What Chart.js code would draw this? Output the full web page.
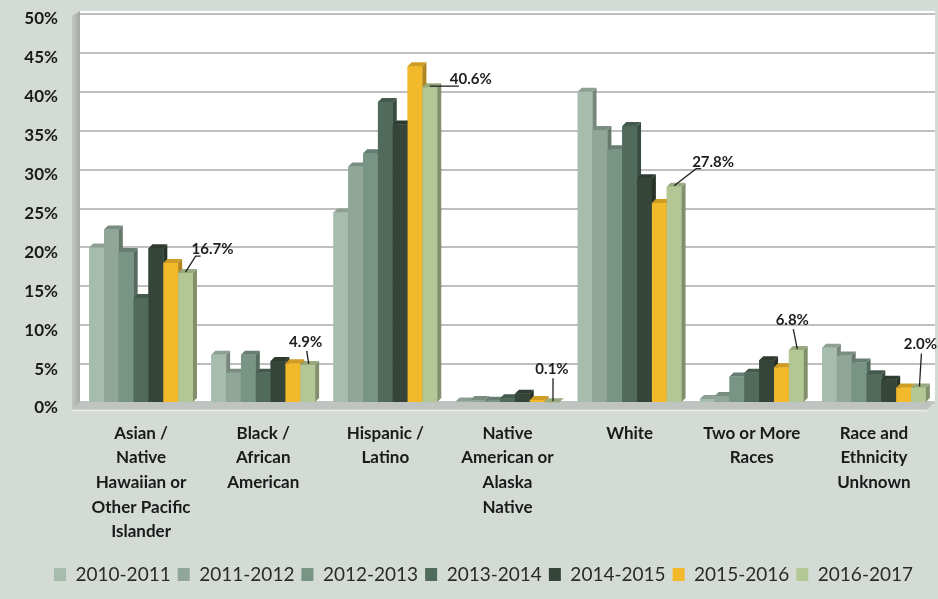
<!DOCTYPE html>
<html><head><meta charset="utf-8">
<script src="https://cdn.jsdelivr.net/npm/chart.js@4"></script>
<style>html,body{margin:0;padding:0;background:#d4dbd5;overflow:hidden}</style>
</head><body>
<canvas id="c" width="938" height="599"></canvas>
<script>
const categories = [
  ["Asian /","Native","Hawaiian or","Other Pacific","Islander"],
  ["Black /","African","American"],
  ["Hispanic /","Latino"],
  ["Native","American or","Alaska","Native"],
  ["White"],
  ["Two or More","Races"],
  ["Race and","Ethnicity","Unknown"]
];
const years = ["2010-2011","2011-2012","2012-2013","2013-2014","2014-2015","2015-2016","2016-2017"];
const v2010_2011 = [20.0, 6.2, 24.5, 0.2, 40.0, 0.5, 7.1];
const v2011_2012 = [22.3, 3.9, 30.4, 0.4, 35.1, 0.9, 6.1];
const v2012_2013 = [19.4, 6.2, 32.1, 0.3, 32.6, 3.4, 5.2];
const v2013_2014 = [13.5, 3.9, 38.7, 0.6, 35.6, 3.9, 3.7];
const v2014_2015 = [19.9, 5.4, 35.8, 1.2, 28.9, 5.5, 3.0];
const v2015_2016 = [18.0, 5.1, 43.3, 0.4, 25.7, 4.6, 2.0];
const v2016_2017 = [16.7, 4.9, 40.6, 0.1, 27.8, 6.8, 2.0];
const yTickValues = [0,5,10,15,20,25,30,35,40,45,50];

const seriesValues = [v2010_2011, v2011_2012, v2012_2013, v2013_2014, v2014_2015, v2015_2016, v2016_2017];
const colors = ["#a6bcad","#8fa698","#789485","#506a5b","#364539","#f2b92a","#b3c794"];

function shade(hex, f){
  const n = parseInt(hex.slice(1),16);
  const r = Math.round(((n>>16)&255)*f), g = Math.round(((n>>8)&255)*f), b = Math.round((n&255)*f);
  return `rgb(${r},${g},${b})`;
}

const bgPlugin = {
  id:'bgPlugin',
  beforeDraw(c){
    const ctx=c.ctx, a=c.chartArea;
    ctx.save();
    ctx.fillStyle='#d4dbd5'; ctx.fillRect(0,0,c.width,c.height);
    ctx.fillStyle='#ffffff'; ctx.fillRect(a.left,a.top-3,a.right-a.left,a.bottom-a.top+3);
    ctx.restore();
  }
};

const legendShift = {
  id:'legendShift',
  afterLayout(c){ if(c.legend){ c.legend.left += 16; c.legend.right += 16; } }
};

const wallPlugin = {
  id:'wallPlugin',
  beforeDatasetsDraw(c){
    const ctx=c.ctx, a=c.chartArea, w=8;
    ctx.save();
    const g = ctx.createLinearGradient(a.left-w,0,a.left,0);
    g.addColorStop(0,'#c2c6c3'); g.addColorStop(1,'#a4a9a5');
    ctx.fillStyle=g;
    ctx.beginPath();
    ctx.moveTo(a.left-w,a.top+2); ctx.lineTo(a.left,a.top-3); ctx.lineTo(a.left,a.bottom); ctx.lineTo(a.left-w,a.bottom+6);
    ctx.closePath(); ctx.fill();
    ctx.fillStyle='#c0c4c1';
    ctx.beginPath();
    ctx.moveTo(a.left-w,a.bottom+7); ctx.lineTo(a.left,a.bottom-2); ctx.lineTo(a.right,a.bottom-2); ctx.lineTo(a.right-w,a.bottom+7);
    ctx.closePath(); ctx.fill();
    ctx.strokeStyle='#e9ece9'; ctx.lineWidth=1.5;
    ctx.beginPath(); ctx.moveTo(a.left-w,a.bottom+7.5); ctx.lineTo(a.right-w,a.bottom+7.5); ctx.stroke();
    ctx.restore();
  }
};

const bars3dPlugin = {
  id:'bars3dPlugin',
  afterDatasetsDraw(c){
    const ctx=c.ctx, d=4;
    ctx.save();
    const n=c.data.labels.length;
    for(let j=0;j<n;j++){
      for(let i=0;i<c.data.datasets.length;i++){
        const el=c.getDatasetMeta(i).data[j];
        const p=el.getProps(['x','y','base','width'],true);
        const l=p.x-p.width/2, r=p.x+p.width/2, y=p.y, b=p.base;
        const col=c.data.datasets[i].backgroundColor;
        ctx.fillStyle=col; ctx.fillRect(l,y,p.width,b-y);
        ctx.fillStyle=shade(col,0.72);
        ctx.beginPath(); ctx.moveTo(r,y); ctx.lineTo(r+d,y-d); ctx.lineTo(r+d,b-d); ctx.lineTo(r,b); ctx.closePath(); ctx.fill();
        ctx.fillStyle=shade(col,0.85);
        ctx.beginPath(); ctx.moveTo(l,y); ctx.lineTo(l+d,y-d); ctx.lineTo(r+d,y-d); ctx.lineTo(r,y); ctx.closePath(); ctx.fill();
      }
    }
    ctx.restore();
  }
};

const leaderPlugin = {
  id:'leaderPlugin',
  afterDatasetsDraw(c, args, opts){
    const ctx=c.ctx, di=opts.datasetIndex;
    const meta=c.getDatasetMeta(di);
    ctx.save();
    ctx.font='bold 15px Lato';
    ctx.textAlign='center'; ctx.textBaseline='middle';
    ctx.strokeStyle='#222'; ctx.lineWidth=1.3; ctx.fillStyle='#1e1e1e';
    meta.data.forEach((el,j)=>{
      const p=el.getProps(['x','y'],true);
      const off=opts.offsets[j];
      const tx=p.x+off[0], ty=p.y+off[1];
      const txt=c.data.datasets[di].data[j].toFixed(1)+'%';
      const tw=ctx.measureText(txt).width;
      ctx.beginPath();
      if(Math.abs(off[0])>10){
        ctx.moveTo(p.x,p.y-1); ctx.lineTo(tx-tw/2+4,ty+7); ctx.lineTo(tx-tw/2+9,ty+7);
      } else {
        ctx.moveTo(p.x+1,p.y-1); ctx.lineTo(tx+1,ty+9);
      }
      ctx.stroke();
      ctx.fillText(txt,tx,ty);
    });
    ctx.restore();
  }
};

new Chart(document.getElementById('c'),{
  type:'bar',
  data:{
    labels:categories,
    datasets: years.map((yr,i)=>({label:yr,data:seriesValues[i],backgroundColor:colors[i],borderWidth:0,categoryPercentage:0.85,barPercentage:1.0}))
  },
  options:{
    responsive:false, animation:false, devicePixelRatio:1,
    layout:{padding:{left:0,right:3,top:14,bottom:5}},
    scales:{
      y:{min:0,max:50,
        afterBuildTicks(s){ s.ticks = yTickValues.map(v=>({value:v})); },
        afterFit(s){ s.width=80; s.paddingTop=0; s.paddingBottom=0; },
        ticks:{callback:v=>v+'%',font:{family:'Lato',weight:'bold',size:17},color:'#1a1a1a',padding:22,labelOffset:5},
        grid:{color:'#bfbfbf',lineWidth:2,drawTicks:false},
        border:{display:false}
      },
      x:{
        afterFit(s){ s.height=155; },
        ticks:{font:{family:'Lato',weight:'bold',size:17,lineHeight:1.45},color:'#1a1a1a',padding:18,maxRotation:0,autoSkip:false},
        grid:{display:false,drawTicks:false},
        border:{display:false}
      }
    },
    plugins:{
      legend:{position:'bottom',
        labels:{font:{family:'Lato',size:19},color:'#2a2a2a',boxWidth:12,boxHeight:13,padding:7}},
      tooltip:{enabled:false},
      leaderPlugin:{datasetIndex:6,offsets:[[27,-24],[-2,-23],[41,-8],[0,-33],[39,-25],[-4,-30],[2,-43]]}
    }
  },
  plugins:[bgPlugin,legendShift,wallPlugin,bars3dPlugin,leaderPlugin]
});
</script>
</body></html>
